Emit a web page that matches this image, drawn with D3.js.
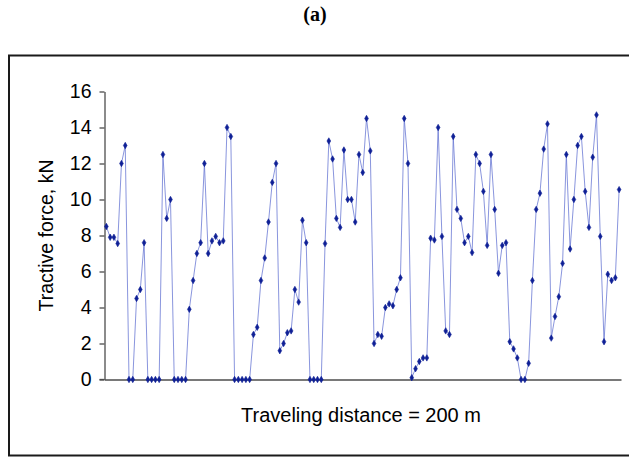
<!DOCTYPE html>
<html>
<head>
<meta charset="utf-8">
<script src="https://cdn.jsdelivr.net/npm/d3@7"></script>
<style>
  html, body { margin: 0; padding: 0; background: #fff; }
  svg { display: block; }
</style>
</head>
<body>
<svg id="chart" width="629" height="457"></svg>
<script>
// ---- data ----
const panelLabel = "(a)";
const yTitle = "Tractive force, kN";
const xTitle = "Traveling distance = 200 m";
const yTicks = [0, 2, 4, 6, 8, 10, 12, 14, 16];
const force = [
  8.5, 7.9, 7.9, 7.55, 12, 13, 0, 0, 4.5, 5.0,
  7.6, 0, 0, 0, 0, 12.5, 8.95, 10, 0, 0,
  0, 0, 3.9, 5.5, 7.0, 7.6, 12, 7.0, 7.7, 7.95,
  7.6, 7.7, 14, 13.5, 0, 0, 0, 0, 0, 2.5,
  2.9, 5.5, 6.75, 8.75, 10.95, 12, 1.6, 2.0, 2.6, 2.7,
  5.0, 4.3, 8.85, 7.6, 0, 0, 0, 0, 7.55, 13.25,
  12.25, 8.95, 8.45, 12.75, 10, 10, 8.75, 12.5, 11.5, 14.5,
  12.7, 2.0, 2.5, 2.4, 4.0, 4.2, 4.1, 5.0, 5.65, 14.5,
  12, 0.1, 0.6, 1.0, 1.2, 1.2, 7.85, 7.75, 14, 7.95,
  2.7, 2.5, 13.5, 9.45, 8.95, 7.6, 7.95, 7.05, 12.5, 12,
  10.45, 7.45, 12.5, 9.45, 5.9, 7.45, 7.6, 2.1, 1.7, 1.2,
  0, 0, 0.9, 5.5, 9.45, 10.35, 12.8, 14.2, 2.3, 3.5,
  4.6, 6.45, 12.5, 7.25, 10, 13, 13.5, 10.45, 8.45, 12.35,
  14.7, 7.95, 2.1, 5.85, 5.5, 5.65, 10.55
];
const categories = force.map((d, i) => i + 1);

// ---- layout ----
const svg = d3.select("#chart");
const plot = { left: 104.5, right: 621, top: 91.5, bottom: 379.5 };
const sans = "'Liberation Sans',Arial,sans-serif";

// outer frame
svg.append("rect")
  .attr("x", 9).attr("y", 55.5)
  .attr("width", 640).attr("height", 400)
  .attr("fill", "none").attr("stroke", "#1a1a1a").attr("stroke-width", 2);

// panel label
svg.append("text")
  .attr("x", 315).attr("y", 21)
  .attr("text-anchor", "middle")
  .attr("font-family", "'Liberation Serif','DejaVu Serif',serif")
  .attr("font-weight", "bold").attr("font-size", 20)
  .attr("fill", "#000")
  .text(panelLabel);

const x = d3.scaleBand().domain(categories).range([plot.left, plot.right]).padding(0);
const y = d3.scaleLinear().domain([0, 16]).range([plot.bottom, plot.top]);

// y axis
const yAxis = d3.axisLeft(y).tickValues(yTicks).tickSize(5).tickPadding(8).tickSizeOuter(0);
const gy = svg.append("g").attr("transform", `translate(${plot.left},0)`).call(yAxis);
gy.select(".domain").attr("stroke", "#4d4d4d").attr("stroke-width", 1.3);
gy.selectAll(".tick line").attr("stroke", "#4d4d4d").attr("stroke-width", 1.3);
gy.selectAll(".tick text")
  .attr("font-family", sans)
  .attr("font-size", 19.5).attr("fill", "#000");

// x axis line (category axis, no labels)
const xAxis = d3.axisBottom(x).tickValues([]).tickSizeOuter(0);
const gx = svg.append("g").attr("transform", `translate(0,${plot.bottom})`).call(xAxis);
gx.select(".domain").attr("stroke", "#4d4d4d").attr("stroke-width", 1.3);
svg.append("line")
  .attr("x1", plot.left - 5).attr("x2", plot.left)
  .attr("y1", y(0)).attr("y2", y(0))
  .attr("stroke", "#4d4d4d").attr("stroke-width", 1.3);

// line
const cx = d => x(d) + x.bandwidth() / 2;
const line = d3.line().x((d, i) => cx(categories[i])).y(d => y(d));
svg.append("path")
  .datum(force)
  .attr("d", line)
  .attr("fill", "none")
  .attr("stroke", "#6474d2")
  .attr("stroke-width", 0.9)
  .attr("stroke-opacity", 0.85);

// markers (small diamonds)
const diamond = d3.symbol().type(d3.symbolDiamond).size(12);
svg.append("g").selectAll("path")
  .data(force)
  .join("path")
  .attr("d", diamond)
  .attr("transform", (d, i) => `translate(${cx(categories[i])},${y(d)})`)
  .attr("fill", "#0f2096")
  .attr("stroke", "#0f2096")
  .attr("stroke-width", 0.6);

// axis titles
svg.append("text")
  .attr("transform", `translate(53,${(plot.top + plot.bottom) / 2}) rotate(-90)`)
  .attr("text-anchor", "middle")
  .attr("font-family", sans)
  .attr("font-size", 19.5).attr("fill", "#000")
  .text(yTitle);

svg.append("text")
  .attr("x", 361).attr("y", 421.5)
  .attr("text-anchor", "middle")
  .attr("font-family", sans)
  .attr("font-size", 20).attr("fill", "#000")
  .text(xTitle);
</script>
</body>
</html>
